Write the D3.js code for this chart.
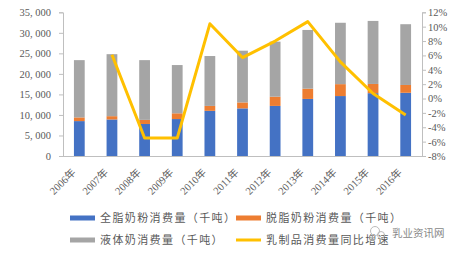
<!DOCTYPE html>
<html>
<head>
<meta charset="utf-8">
<script src="https://cdn.jsdelivr.net/npm/d3@7"></script>
<style>
  body { margin: 0; background: #fff; }
  svg text { font-family: "Liberation Serif", "Noto Sans CJK SC", serif; fill: #595959; }
</style>
</head>
<body>
<div id="chart"></div>
<script>
const years = ["2006年", "2007年", "2008年", "2009年", "2010年", "2011年", "2012年", "2013年", "2014年", "2015年", "2016年"];
const wholePowder = [8500, 8900, 7800, 9000, 11000, 11600, 12200, 13900, 14600, 15300, 15400];
const skimPowder = [900, 800, 1000, 1400, 1200, 1450, 2250, 2500, 2900, 2250, 1900];
const liquidMilk = [13950, 15100, 14550, 11750, 12150, 12600, 13400, 14300, 14950, 15350, 14800];
const growth = [null, 6.1, -5.5, -5.5, 10.4, 5.7, 8.0, 10.7, 5.1, 0.7, -2.3];
const leftTicks = [0, 5000, 10000, 15000, 20000, 25000, 30000, 35000];
const rightTicks = [-8, -6, -4, -2, 0, 2, 4, 6, 8, 10, 12];
const seriesNames = ["全脂奶粉消费量（千吨）", "脱脂奶粉消费量（千吨）", "液体奶消费量（千吨）", "乳制品消费量同比增速"];
const colors = ["#4472C4", "#ED7D31", "#A5A5A5", "#FFC000"];

const width = 459, height = 254;
const plotLeft = 63, plotRight = 422, plotTop = 12.3, plotBottom = 156;

const svg = d3.select("#chart").append("svg")
    .attr("width", width)
    .attr("height", height);

const x = d3.scaleBand().domain(years).range([plotLeft, plotRight]).paddingInner(0.67).paddingOuter(0.335);
const y = d3.scaleLinear().domain([0, 35000]).range([plotBottom, plotTop]);
const y2 = d3.scaleLinear().domain([-8, 12]).range([plotBottom, plotTop]);

const fmt = v => d3.format(",")(v).replace(",", ", ");

// axes
const axisLeft = svg.append("g")
    .attr("transform", `translate(${plotLeft},0)`)
    .call(d3.axisLeft(y).tickValues(leftTicks).tickFormat(fmt).tickSize(4).tickPadding(8));
axisLeft.selectAll("text").attr("font-size", 10.5);

const axisRight = svg.append("g")
    .attr("transform", `translate(${plotRight},0)`)
    .call(d3.axisRight(y2).tickValues(rightTicks).tickFormat(d => d + "%").tickSize(4).tickPadding(2));
axisRight.selectAll("text").attr("font-size", 10.5);

svg.selectAll(".domain, .tick line").attr("stroke", "#BFBFBF");

const axisBottom = svg.append("g")
    .attr("transform", `translate(0,${plotBottom})`)
    .call(d3.axisBottom(x).tickSize(0).tickPadding(0));
axisBottom.select(".domain").attr("stroke", "#BFBFBF").attr("d", `M${plotLeft},0.5H${plotRight}`);
axisBottom.selectAll("text")
    .attr("font-size", 10.5)
    .attr("text-anchor", "end")
    .attr("dy", 0)
    .attr("transform", "translate(-3,17) rotate(-45)");

// stacked bars
const stackData = years.map((yr, i) => ({ year: yr, a: wholePowder[i], b: skimPowder[i], c: liquidMilk[i] }));
const stacks = d3.stack().keys(["a", "b", "c"])(stackData);

svg.append("g").selectAll("g")
    .data(stacks)
    .enter().append("g")
    .attr("fill", (d, i) => colors[i])
    .selectAll("rect")
    .data(d => d)
    .enter().append("rect")
    .attr("x", d => x(d.data.year))
    .attr("width", x.bandwidth())
    .attr("y", d => y(d[1]))
    .attr("height", d => y(d[0]) - y(d[1]));

// growth line
const line = d3.line()
    .defined(d => d !== null)
    .x((d, i) => x(years[i]) + x.bandwidth() / 2)
    .y(d => y2(d));

svg.append("path")
    .datum(growth)
    .attr("fill", "none")
    .attr("stroke", colors[3])
    .attr("stroke-width", 3)
    .attr("stroke-linejoin", "round")
    .attr("d", line);

// legend
const legendPos = [[70, 218], [236, 218], [70, 240], [236, 240]];
const legend = svg.append("g").selectAll("g")
    .data(seriesNames)
    .enter().append("g")
    .attr("transform", (d, i) => `translate(${legendPos[i][0]},${legendPos[i][1]})`);

legend.append("rect")
    .attr("x", 0)
    .attr("y", (d, i) => i === 3 ? -1.5 : -2.5)
    .attr("width", 25)
    .attr("height", (d, i) => i === 3 ? 3 : 5)
    .attr("fill", (d, i) => colors[i]);

legend.append("text")
    .attr("x", 30)
    .attr("y", 4)
    .attr("font-size", 11)
    .attr("letter-spacing", 1.4)
    .text(d => d);

// watermark
const wm = svg.append("g").attr("transform", "translate(392,237)");
wm.append("circle").attr("cx", -17).attr("cy", -6).attr("r", 4.5).attr("fill", "none").attr("stroke", "#bbb").attr("stroke-width", 1);
wm.append("circle").attr("cx", -11).attr("cy", -2).attr("r", 3.5).attr("fill", "none").attr("stroke", "#bbb").attr("stroke-width", 1);
wm.append("text")
    .attr("x", 0)
    .attr("y", 0)
    .attr("font-size", 10.5)
    .style("font-family", "'Noto Sans CJK SC', sans-serif")
    .style("fill", "#888")
    .text("乳业资讯网");
</script>
</body>
</html>
